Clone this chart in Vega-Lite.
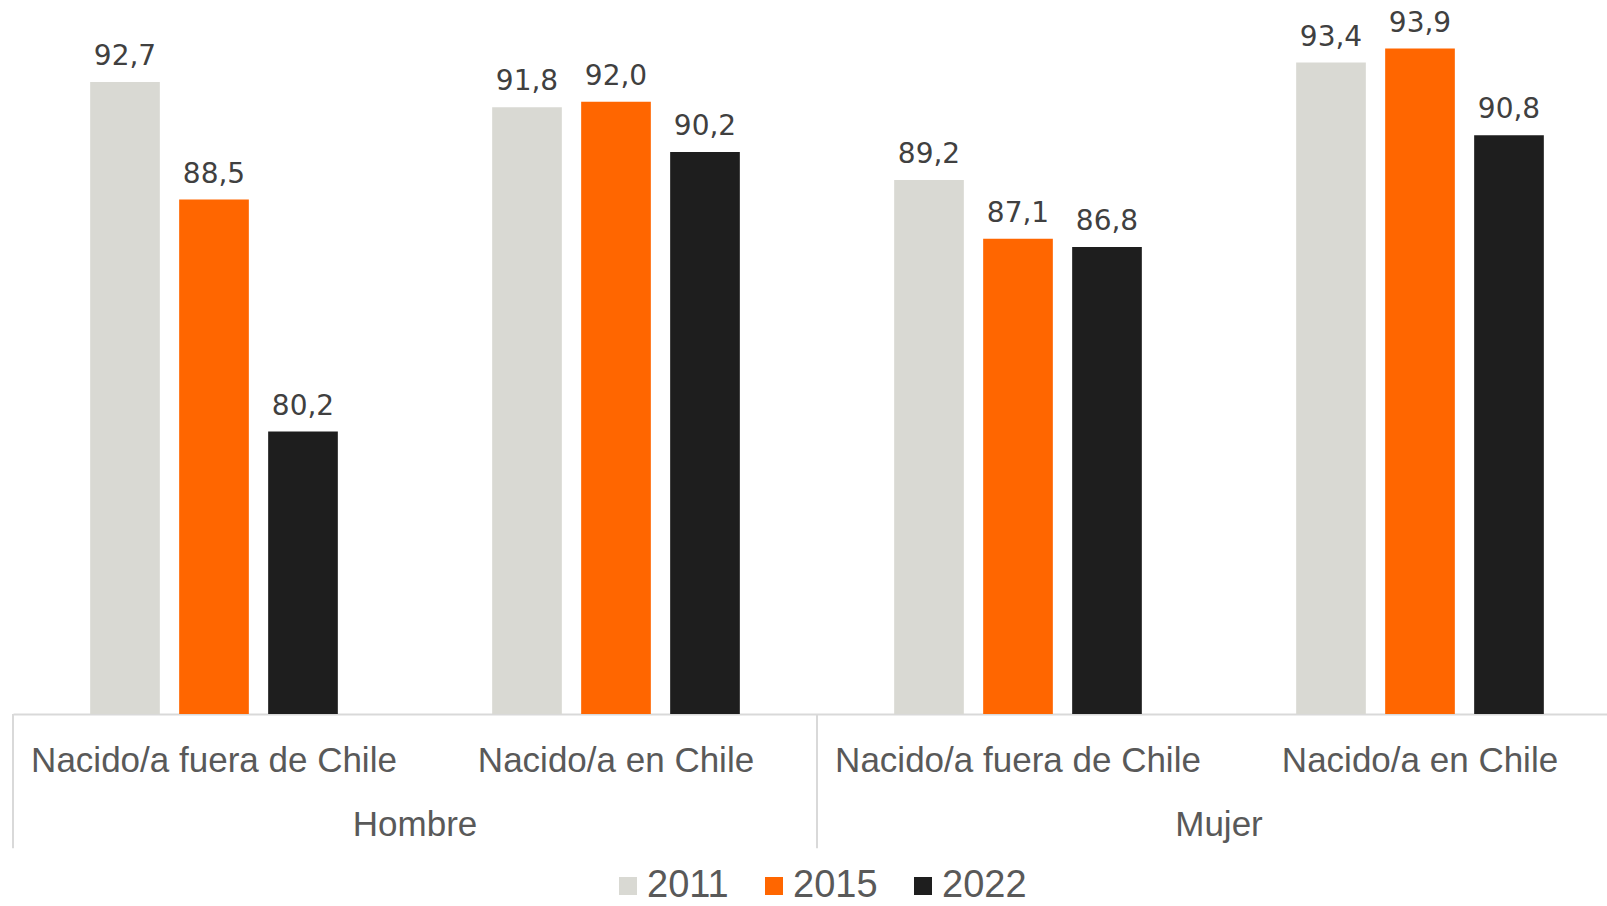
{
  "$schema": "https://vega.github.io/schema/vega-lite/v6.json",
  "width": 1594,
  "height": 699,
  "autosize": {"type": "none"},
  "padding": {"left": 13, "top": 15, "right": 0, "bottom": 192},
  "background": "white",
  "config": {
    "view": {"stroke": null},
    "locale": {"number": {"decimal": ",", "thousands": ".", "grouping": [3], "currency": ["$", ""]}}
  },
  "datasets": {
    "bars": [
      {"cat": "Hombre|Nacido/a fuera de Chile", "year": "2011", "v": 92.7},
      {"cat": "Hombre|Nacido/a fuera de Chile", "year": "2015", "v": 88.5},
      {"cat": "Hombre|Nacido/a fuera de Chile", "year": "2022", "v": 80.2},
      {"cat": "Hombre|Nacido/a en Chile", "year": "2011", "v": 91.8},
      {"cat": "Hombre|Nacido/a en Chile", "year": "2015", "v": 92.0},
      {"cat": "Hombre|Nacido/a en Chile", "year": "2022", "v": 90.2},
      {"cat": "Mujer|Nacido/a fuera de Chile", "year": "2011", "v": 89.2},
      {"cat": "Mujer|Nacido/a fuera de Chile", "year": "2015", "v": 87.1},
      {"cat": "Mujer|Nacido/a fuera de Chile", "year": "2022", "v": 86.8},
      {"cat": "Mujer|Nacido/a en Chile", "year": "2011", "v": 93.4},
      {"cat": "Mujer|Nacido/a en Chile", "year": "2015", "v": 93.9},
      {"cat": "Mujer|Nacido/a en Chile", "year": "2022", "v": 90.8}
    ],
    "seps": [
      {"cat": "Hombre|Nacido/a fuera de Chile"},
      {"cat": "Mujer|Nacido/a fuera de Chile"}
    ],
    "groups": [
      {"cat": "Hombre|Nacido/a en Chile", "label": "Hombre"},
      {"cat": "Mujer|Nacido/a en Chile", "label": "Mujer"}
    ]
  },
  "layer": [
    {
      "data": {"name": "bars"},
      "mark": {"type": "bar"},
      "encoding": {
        "x": {
          "field": "cat", "type": "nominal",
          "scale": {
            "domain": ["Hombre|Nacido/a fuera de Chile", "Hombre|Nacido/a en Chile", "Mujer|Nacido/a fuera de Chile", "Mujer|Nacido/a en Chile"],
            "range": [0, 1608], "paddingInner": 0, "paddingOuter": 0
          },
          "axis": {
            "title": null,
            "labelExpr": "split(datum.value, '|')[1]",
            "labelAngle": 0,
            "labelFont": "Liberation Sans", "labelFontSize": 35, "labelColor": "#595959",
            "labelPadding": 29, "labelLimit": 1000, "labelOverlap": false, "labelBound": false,
            "ticks": false, "domainColor": "#d9d9d9", "domainWidth": 2, "grid": false
          }
        },
        "xOffset": {
          "field": "year", "type": "nominal",
          "scale": {"paddingInner": 0.217, "paddingOuter": 0.867}
        },
        "y": {
          "field": "v", "type": "quantitative",
          "scale": {"domain": [70.1, 95.1], "zero": false, "nice": false},
          "axis": null
        },
        "y2": {"datum": 70.1},
        "color": {
          "field": "year", "type": "nominal",
          "scale": {"domain": ["2011", "2015", "2022"], "range": ["#D9D9D3", "#FF6600", "#1E1E1E"]},
          "legend": {
            "title": null, "orient": "none", "direction": "horizontal",
            "legendX": 596, "legendY": 852,
            "symbolType": "square", "symbolSize": 324, "symbolStrokeWidth": 0,
            "labelFont": "Liberation Sans", "labelFontSize": 38, "labelColor": "#595959",
            "labelOffset": 0, "columnPadding": 26
          }
        }
      }
    },
    {
      "data": {"name": "bars"},
      "mark": {"type": "text", "baseline": "alphabetic", "dy": -17, "font": "DejaVu Sans", "fontSize": 28, "color": "#404040"},
      "encoding": {
        "x": {"field": "cat", "type": "nominal"},
        "xOffset": {"field": "year", "type": "nominal"},
        "y": {"field": "v", "type": "quantitative"},
        "text": {"field": "v", "type": "quantitative", "format": ".1f"}
      }
    },
    {
      "data": {"name": "seps"},
      "mark": {"type": "rule", "color": "#d9d9d9", "strokeWidth": 2},
      "encoding": {
        "x": {"field": "cat", "type": "nominal", "bandPosition": 0},
        "y": {"datum": 70.1},
        "y2": {"datum": 65.3}
      }
    },
    {
      "data": {"name": "groups"},
      "mark": {"type": "text", "baseline": "middle", "align": "center", "font": "Liberation Sans", "fontSize": 35, "color": "#595959"},
      "encoding": {
        "x": {"field": "cat", "type": "nominal", "bandPosition": 0},
        "y": {"datum": 66.13},
        "text": {"field": "label"}
      }
    }
  ]
}
